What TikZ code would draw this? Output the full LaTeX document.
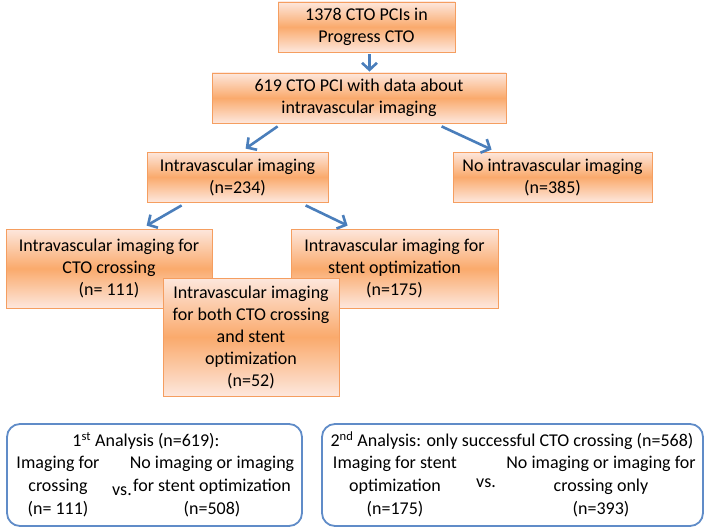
\documentclass[tikz,border=0pt]{standalone}
\usepackage{fontspec}
\setmainfont{Carlito}
\usetikzlibrary{arrows.meta}

\definecolor{boxline}{RGB}{245,158,96}
\definecolor{boxpale}{RGB}{253,231,221}
\definecolor{boxmid}{RGB}{250,170,108}
\definecolor{flowblue}{RGB}{74,126,187}
\definecolor{panelblue}{RGB}{96,140,200}

\tikzset{
  stagebox/.style={draw=boxline, line width=0.8pt, top color=boxpale, bottom color=boxpale,
    middle color=boxmid, align=center, inner sep=0pt,
    font=\fontsize{18}{22}\selectfont},
  flowarrow/.style={draw=flowblue, line width=2.6pt, -{Straight Barb[length=7pt,width=15pt]}},
  panelbox/.style={draw=panelblue, line width=1.8pt, rounded corners=13pt, fill=white, inner sep=0pt},
  paneltext/.style={align=center, inner sep=0pt, font=\fontsize{18}{23}\selectfont},
}

\begin{document}
\begin{tikzpicture}[x=1pt,y=1pt]
	\useasboundingbox (0,0) rectangle (709,-532);
	% flow boxes
	\node [stagebox, minimum width=177, minimum height=50] (total) at (366.5,-27) {1378 CTO PCIs in\\Progress CTO};
	\node [stagebox, minimum width=294, minimum height=50] (data) at (359,-98) {619 CTO PCI with data about\\intravascular imaging};
	\node [stagebox, minimum width=181, minimum height=50] (ivi) at (237.5,-177) {Intravascular imaging\\(n=234)};
	\node [stagebox, minimum width=199, minimum height=50] (noivi) at (552.5,-177) {No intravascular imaging\\(n=385)};
	\node [stagebox, minimum width=206, minimum height=79] (cross) at (109,-268.5) {Intravascular imaging for\\CTO crossing\\(n= 111)};
	\node [stagebox, minimum width=207, minimum height=79] (stent) at (394.5,-268.5) {Intravascular imaging for\\stent optimization\\(n=175)};
	\node [stagebox, minimum width=176, minimum height=118] (both) at (251,-337) {Intravascular imaging\\for both CTO crossing\\and stent\\optimization\\(n=52)};
	% arrows
	\draw [flowarrow] ([xshift=3pt,yshift=-2pt]total.south) -- ([xshift=3pt,yshift=1pt]total.south |- data.north);
	\draw [flowarrow] ([xshift=66pt,yshift=-3pt]data.south west) -- ([xshift=99pt,yshift=3pt]ivi.north west);
	\draw [flowarrow] ([xshift=230pt,yshift=-3pt]data.south west) -- ([xshift=39pt,yshift=2pt]noivi.north west);
	\draw [flowarrow] ([xshift=35pt,yshift=-3pt]ivi.south west) -- ([xshift=141pt,yshift=3pt]cross.north west);
	\draw [flowarrow] ([xshift=159pt,yshift=-3pt]ivi.south west) -- ([xshift=57pt,yshift=3pt]stent.north west);
	% analysis panels
	\node [panelbox, minimum width=295, minimum height=102] (first) at (154.5,-475) {};
	\node [panelbox, minimum width=381, minimum height=102] (second) at (512.5,-475) {};
	\node [paneltext] (firsttitle) at (146,-441) {1\textsuperscript{st} Analysis (n=619):};
	\node [paneltext] (firstleft) at (58,-487) {Imaging for\\crossing\\(n= 111)};
	\node [paneltext] (firstvs) at (122,-491) {vs.};
	\node [paneltext] (firstright) at (212,-487) {No imaging or imaging\\for stent optimization\\(n=508)};
	\node [paneltext] (secondtitle) at (512,-441) {2\textsuperscript{nd} Analysis: only successful CTO crossing (n=568)};
	\node [paneltext] (secondleft) at (395,-487) {Imaging for stent\\optimization\\(n=175)};
	\node [paneltext] (secondvs) at (486,-483) {vs.};
	\node [paneltext] (secondright) at (601,-487) {No imaging or imaging for\\crossing only\\(n=393)};
\end{tikzpicture}
\end{document}
